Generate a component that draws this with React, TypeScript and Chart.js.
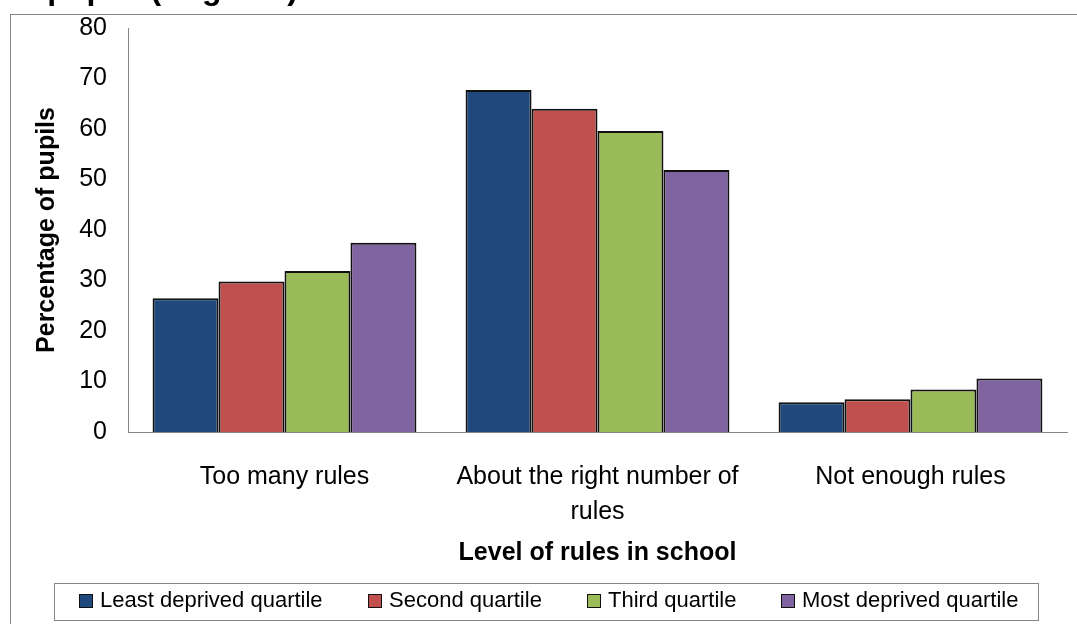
import React, { useEffect, useRef } from "react";
import { Chart, registerables } from "chart.js";

Chart.register(...registerables);

const categories: (string | string[])[] = [
  ["Too many rules"],
  ["About the right number of", "rules"],
  ["Not enough rules"],
];
const seriesNames = [
  "Least deprived quartile",
  "Second quartile",
  "Third quartile",
  "Most deprived quartile",
];
const leastDeprived = [26.5, 67.7, 5.9];
const secondQuartile = [29.8, 64.0, 6.5];
const thirdQuartile = [31.9, 59.6, 8.4];
const mostDeprived = [37.5, 51.9, 10.6];
const seriesColors = ["#1F497D", "#C0504D", "#9BBB59", "#8064A2"];
const yMin = 0;
const yMax = 80;
const yStep = 10;
const xTitle = "Level of rules in school";
const yTitle = "Percentage of pupils";
const topTitle = "pupils (England)";

const FONT = '"Liberation Sans", Arial, sans-serif';

const framePlugin = {
  id: "frameAndLegend",
  beforeDraw(chart: any) {
    const ctx = chart.ctx;
    ctx.save();
    ctx.fillStyle = "#ffffff";
    ctx.fillRect(0, 0, chart.width, chart.height);
    // outer frame
    ctx.strokeStyle = "#868686";
    ctx.lineWidth = 1;
    ctx.strokeRect(10.5, 14.5, 1200, 700);
    // cropped title
    ctx.fillStyle = "#000";
    ctx.font = `bold 32px ${FONT}`;
    ctx.textAlign = "right";
    ctx.textBaseline = "alphabetic";
    ctx.fillText(topTitle, 298, -1);
    ctx.restore();
  },
  afterDraw(chart: any) {
    const ctx = chart.ctx;
    const ds = chart.data.datasets;
    ctx.save();
    ctx.font = `22px ${FONT}`;
    const box = 14;
    const gapText = 7;
    const gapItem = 45;
    const widths = ds.map((d: any) => ctx.measureText(d.label).width);
    let total = 0;
    widths.forEach((w: number, i: number) => {
      total += box + gapText + w + (i < widths.length - 1 ? gapItem : 0);
    });
    const start = 549 - total / 2;
    // legend frame
    ctx.strokeStyle = "#868686";
    ctx.lineWidth = 1;
    ctx.strokeRect(Math.round(start - 25) + 0.5, 583.5, Math.round(total + 45), 37);
    let x = start;
    const cy = 601;
    ds.forEach((d: any, i: number) => {
      const bx = Math.round(x);
      ctx.fillStyle = d.backgroundColor;
      ctx.fillRect(bx, cy - 7, box, box);
      ctx.strokeStyle = "#111";
      ctx.strokeRect(bx + 0.5, cy - 7 + 0.5, box - 1, box - 1);
      ctx.fillStyle = "#000";
      ctx.textAlign = "left";
      ctx.textBaseline = "middle";
      ctx.fillText(d.label, bx + box + gapText, cy);
      x += box + gapText + widths[i] + gapItem;
    });
    ctx.restore();
  },
};

export default function App() {
  const ref = useRef<HTMLCanvasElement | null>(null);

  useEffect(() => {
    if (!ref.current) return;
    const values = [leastDeprived, secondQuartile, thirdQuartile, mostDeprived];
    const chart = new Chart(ref.current, {
      type: "bar",
      data: {
        labels: categories,
        datasets: values.map((v, i) => ({
          label: seriesNames[i],
          data: v,
          backgroundColor: seriesColors[i],
          borderColor: "#111111",
          borderWidth: 2,
          categoryPercentage: 0.843,
          barPercentage: 1,
        })),
      },
      options: {
        responsive: false,
        animation: false,
        layout: { padding: { left: 26, right: 10, top: 5, bottom: 56 } },
        plugins: {
          legend: { display: false },
          tooltip: { enabled: false },
        },
        scales: {
          x: {
            grid: { display: false, drawTicks: false },
            border: { display: true, color: "#868686", width: 1 },
            ticks: {
              color: "#000",
              font: { family: FONT, size: 25, lineHeight: 1.4 },
              padding: 28,
              maxRotation: 0,
              autoSkip: false,
            },
            title: {
              display: true,
              text: xTitle,
              color: "#000",
              font: { family: FONT, size: 25, weight: "bold", lineHeight: 1.2 },
              padding: { top: 0, bottom: 0 },
            },
            afterFit: (s: any) => {
              s.height = 136;
            },
          },
          y: {
            min: yMin,
            max: yMax,
            grid: { display: false, drawTicks: false },
            border: { display: true, color: "#868686", width: 1 },
            ticks: {
              stepSize: yStep,
              color: "#000",
              font: { family: FONT, size: 25, lineHeight: 0.56 },
              padding: 21,
            },
            title: {
              display: true,
              text: yTitle,
              color: "#000",
              font: { family: FONT, size: 25, weight: "bold", lineHeight: 1.2 },
              padding: { top: 6, bottom: 0 },
            },
            afterFit: (s: any) => {
              s.width = 102;
            },
          },
        },
      },
      plugins: [framePlugin],
    });
    return () => chart.destroy();
  }, []);

  return (
    <div
      style={{
        position: "fixed",
        left: 0,
        top: 0,
        width: 1077,
        height: 624,
        overflow: "hidden",
        background: "#fff",
      }}
    >
      <canvas ref={ref} width={1077} height={624} style={{ width: 1077, height: 624, display: "block" }} />
    </div>
  );
}
